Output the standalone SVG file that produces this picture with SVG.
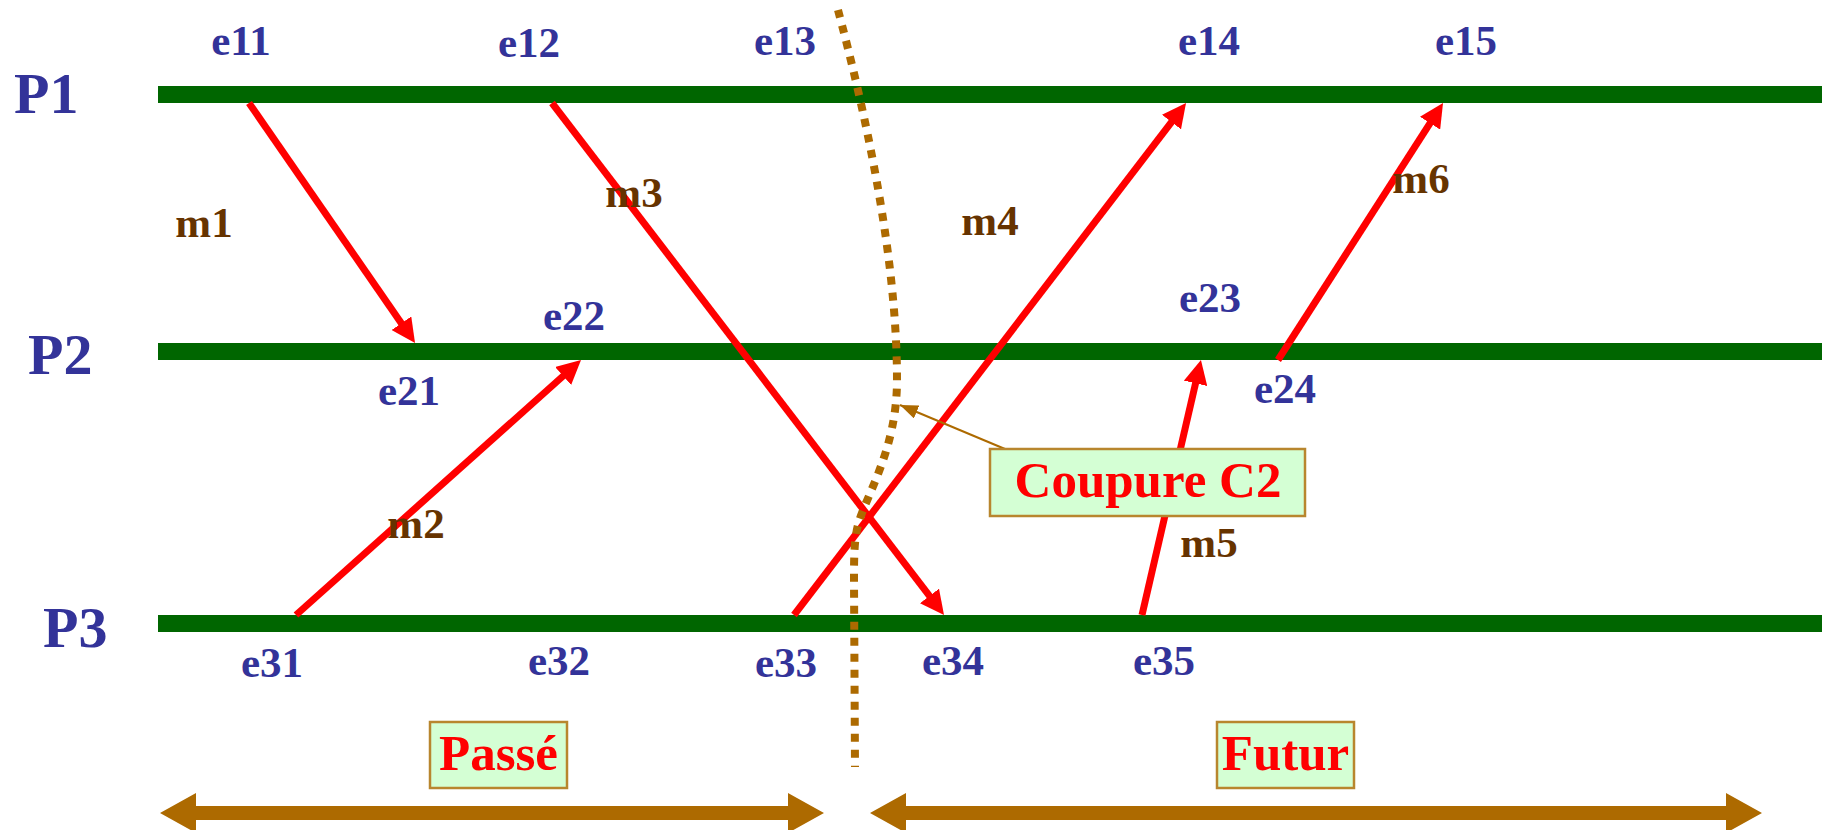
<svg xmlns="http://www.w3.org/2000/svg" width="1826" height="830" viewBox="0 0 1826 830">
  <defs>
    <style>
      .proc { fill: #333399; font-family: "Liberation Serif", serif; font-weight: bold; font-size: 58px; }
      .ev { fill: #333399; font-family: "Liberation Serif", serif; font-weight: bold; font-size: 43px; text-anchor: middle; }
      .msg { fill: #663300; font-family: "Liberation Serif", serif; font-weight: bold; font-size: 43px; text-anchor: middle; }
      .lane { stroke: #006600; stroke-width: 17; fill: none; }
      .send { stroke: #FF0000; stroke-width: 7; fill: none; marker-end: url(#redHead); }
      .cut { stroke: #AD6A00; stroke-width: 8; stroke-dasharray: 8 8; fill: none; }
      .box { fill: #D4FFD4; stroke: #B8862E; stroke-width: 2.5; }
      .boxText { fill: #FF0000; font-family: "Liberation Serif", serif; font-weight: bold; text-anchor: middle; }
      .span { fill: #AD6A00; }
    </style>
    <marker id="redHead" viewBox="0 0 24 24" refX="6" refY="12" markerWidth="24" markerHeight="24" markerUnits="userSpaceOnUse" orient="auto">
      <path d="M0,0 L24,12 L0,24 z" fill="#FF0000"/>
    </marker>
    <marker id="leadHead" viewBox="0 0 18 14" refX="18" refY="7" markerWidth="18" markerHeight="14" markerUnits="userSpaceOnUse" orient="auto">
      <path d="M0,0 L18,7 L0,14 z" fill="#AD6A00"/>
    </marker>
  </defs>
  <rect width="1826" height="830" fill="#FFFFFF"/>

  <!-- process timelines -->
  <g id="P1">
    <line class="lane" x1="158" y1="94.5" x2="1822" y2="94.5"/>
    <text class="proc" x="14" y="113">P1</text>
  </g>
  <g id="P2">
    <line class="lane" x1="158" y1="351.5" x2="1822" y2="351.5"/>
    <text class="proc" x="28" y="374">P2</text>
  </g>
  <g id="P3">
    <line class="lane" x1="158" y1="623.5" x2="1822" y2="623.5"/>
    <text class="proc" x="43" y="647">P3</text>
  </g>

  <!-- events -->
  <g id="events">
    <text class="ev" x="241" y="55">e11</text>
    <text class="ev" x="529" y="57">e12</text>
    <text class="ev" x="785" y="55">e13</text>
    <text class="ev" x="1209" y="55">e14</text>
    <text class="ev" x="1466" y="55">e15</text>
    <text class="ev" x="409" y="405">e21</text>
    <text class="ev" x="574" y="330">e22</text>
    <text class="ev" x="1210" y="312">e23</text>
    <text class="ev" x="1285" y="403">e24</text>
    <text class="ev" x="272" y="677">e31</text>
    <text class="ev" x="559" y="675">e32</text>
    <text class="ev" x="786" y="677">e33</text>
    <text class="ev" x="953" y="675">e34</text>
    <text class="ev" x="1164" y="675">e35</text>
  </g>

  <!-- messages -->
  <g id="connectors">
    <line class="send" x1="249" y1="103" x2="404.8" y2="328.2"/>
    <line class="send" x1="296" y1="615" x2="567.6" y2="372.0"/>
    <line class="send" x1="552" y1="103" x2="933.1" y2="600.7"/>
    <line class="send" x1="794" y1="615" x2="1175.1" y2="117.3"/>
    <line class="send" x1="1142" y1="615" x2="1196.9" y2="377.5"/>
    <line class="send" x1="1278" y1="360" x2="1433.3" y2="118.1"/>
  </g>
  <g id="messageLabels">
    <text class="msg" x="204" y="237">m1</text>
    <text class="msg" x="416" y="538">m2</text>
    <text class="msg" x="634" y="207">m3</text>
    <text class="msg" x="990" y="235">m4</text>
    <text class="msg" x="1209" y="557">m5</text>
    <text class="msg" x="1421" y="193">m6</text>
  </g>

  <!-- cut line -->
  <g id="cutC2">
    <path class="cut" d="M838,10 C862,100 897,250 897,380 C897,450 866,495 858,525 C854,540 854,560 854,580 L855,767"/>
  </g>

  <!-- cut callout -->
  <g id="calloutC2">
    <line x1="1005" y1="449" x2="900" y2="405" stroke="#AD6A00" stroke-width="2" marker-end="url(#leadHead)"/>
    <rect class="box" x="990" y="449" width="315" height="67"/>
    <text class="boxText" x="1148" y="497" font-size="51">Coupure C2</text>
  </g>

  <!-- past / future spans -->
  <g id="past">
    <polygon class="span" points="160,813 196,793 196,806 788,806 788,793 824,813 788,833 788,820 196,820 196,833"/>
    <rect class="box" x="430" y="722" width="137" height="66"/>
    <text class="boxText" x="498.5" y="770" font-size="51">Passé</text>
  </g>
  <g id="future">
    <polygon class="span" points="870,813 906,793 906,806 1726,806 1726,793 1762,813 1726,833 1726,820 906,820 906,833"/>
    <rect class="box" x="1217" y="722" width="137" height="66"/>
    <text class="boxText" x="1285.5" y="770" font-size="51">Futur</text>
  </g>
</svg>
